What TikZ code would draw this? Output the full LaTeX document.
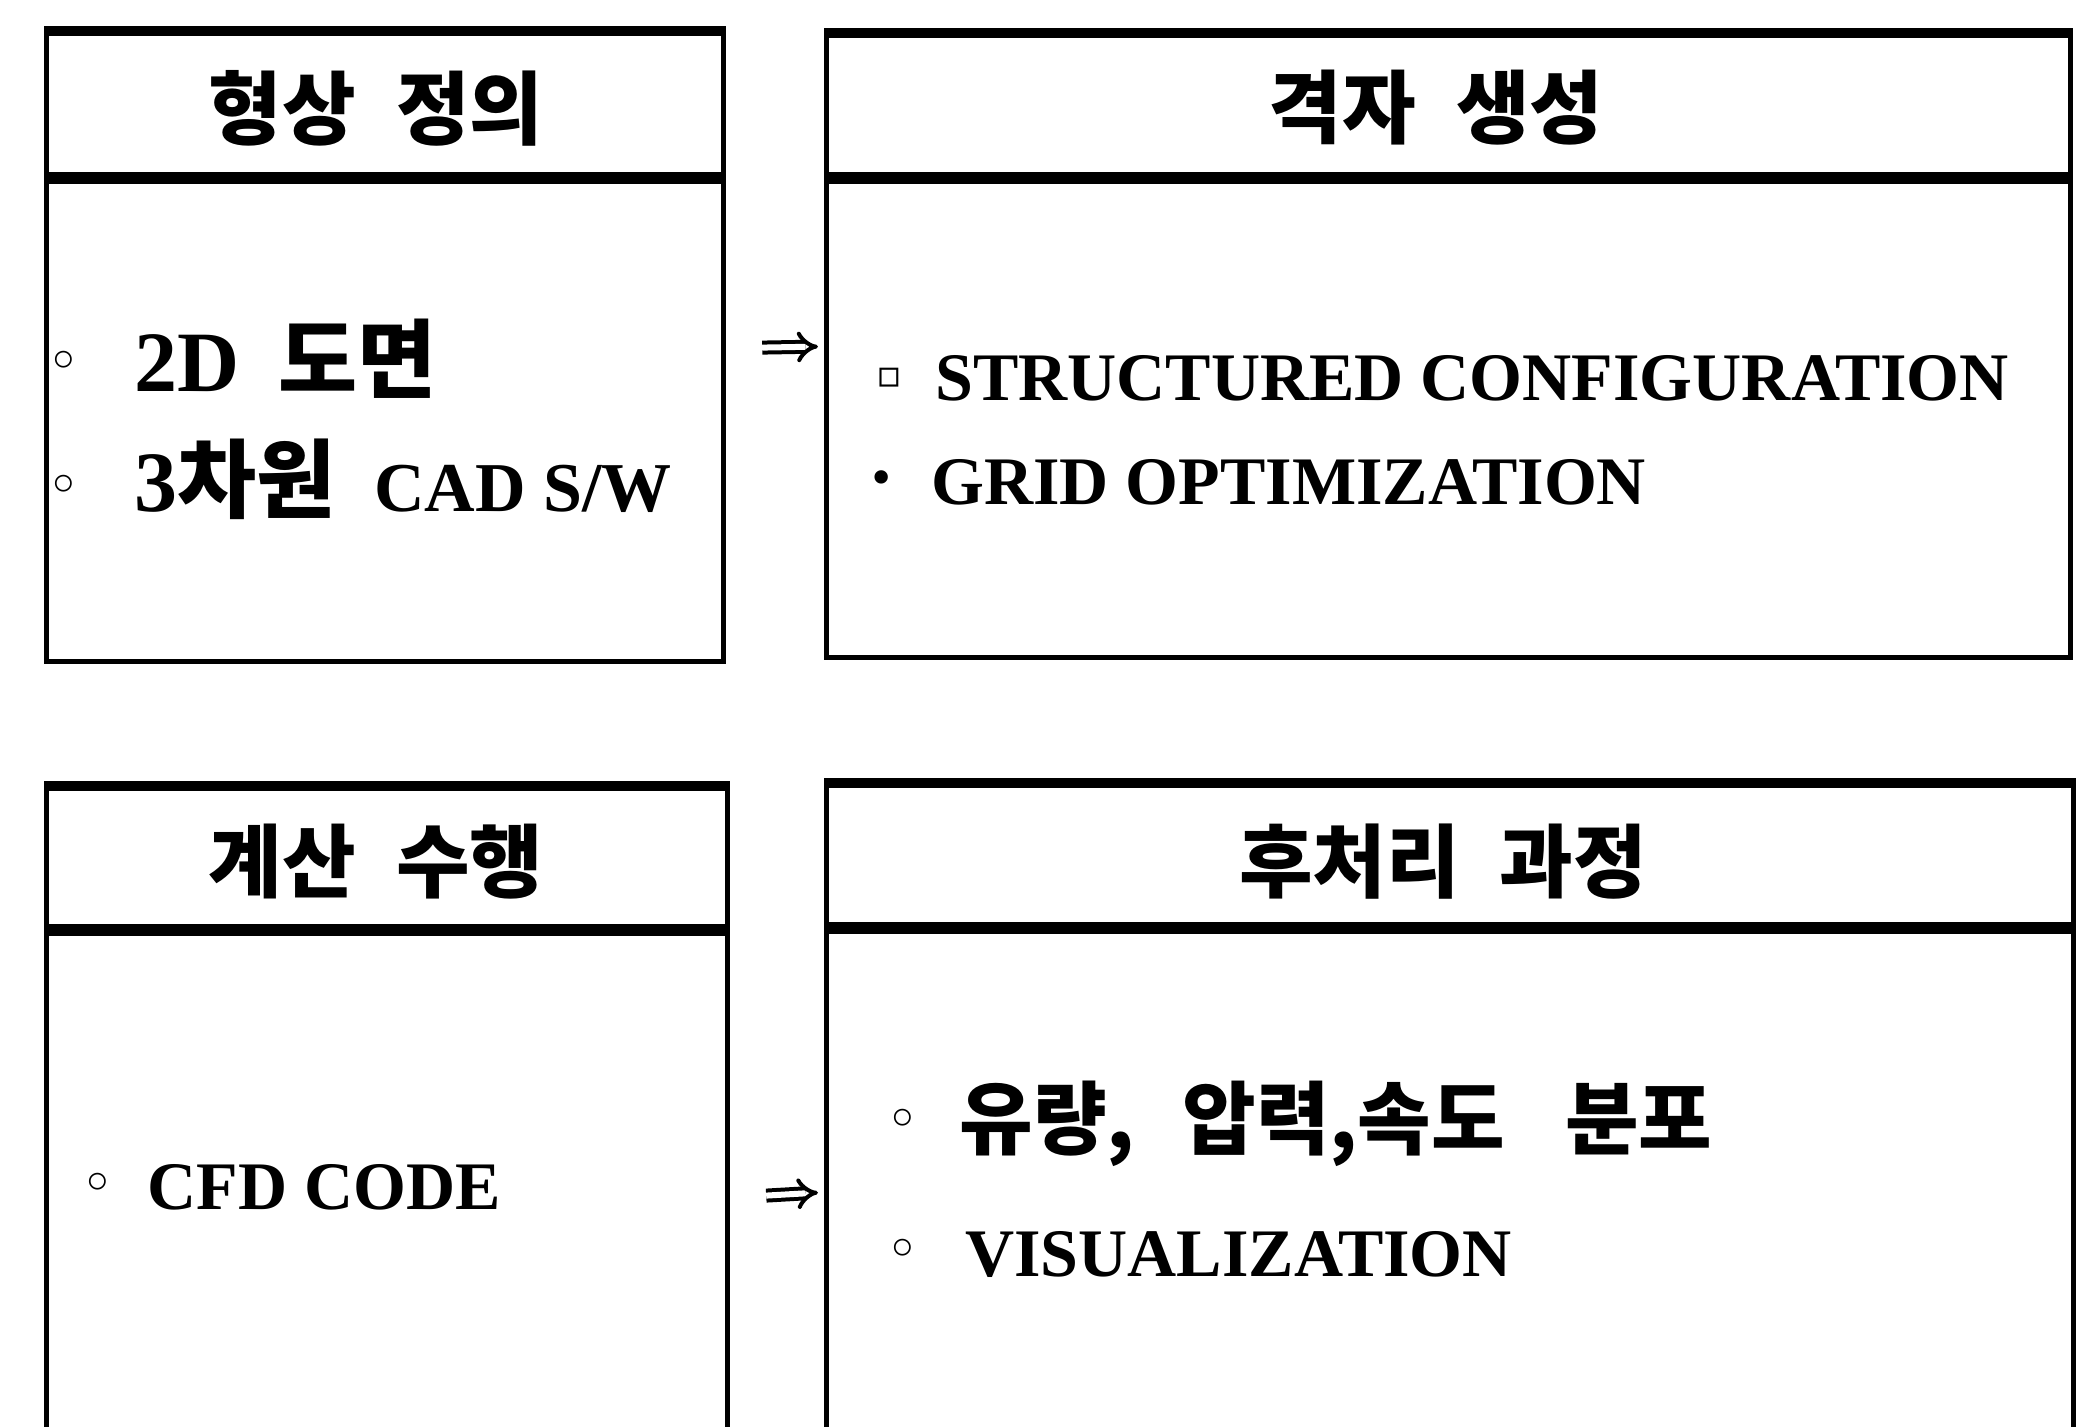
\documentclass[tikz,border=0pt]{standalone}
\usepackage{fontspec}
\setmainfont{Liberation Serif}
\newfontfamily\kr{Noto Sans CJK KR}
\newfontfamily\sym{DejaVu Sans}
\usetikzlibrary{arrows.meta}

\tikzset{
  box/.style={draw, line width=2.6pt, anchor=north west, inner sep=0pt},
  topedge/.style={line width=4.5pt},
  divider/.style={line width=6pt},
  head/.style={font=\kr\bfseries\fontsize{40}{44}\selectfont, inner sep=0pt},
  big/.style={anchor=base west, inner sep=0pt, font=\bfseries\fontsize{43}{48}\selectfont},
  item/.style={anchor=base west, inner sep=0pt, font=\bfseries\fontsize{34}{40}\selectfont},
  kitem/.style={anchor=base west, inner sep=0pt, font=\kr\bfseries\fontsize{40}{44}\selectfont},
  dot/.style={inner sep=0pt, font=\sym\bfseries\fontsize{24}{26}\selectfont},
  smalldot/.style={inner sep=0pt, font=\sym\bfseries\fontsize{19}{21}\selectfont},
  imp/.style={double, double distance=3pt, line width=2pt, -{Implies[length=6pt]}}
}

\begin{document}
\begin{tikzpicture}[x=0.5pt,y=-0.5pt]
\useasboundingbox (0,0) rectangle (2095,1427);
\clip (0,0) rectangle (2095,1427);
\fill[white] (0,0) rectangle (2095,1427);

% --- the four stage boxes ---
\node[box, minimum width=338.5pt, minimum height=314pt] (tl) at (44,31) {};
\node[box, minimum width=622pt,   minimum height=311pt] (tr) at (824,33) {};
\node[box, minimum width=340.5pt, minimum height=407pt] (bl) at (44,786) {};
\node[box, minimum width=623.5pt, minimum height=407pt] (br) at (824,783) {};

% heavier top edges
\draw[topedge] (tl.north west) -- (tl.north east);
\draw[topedge] (tr.north west) -- (tr.north east);
\draw[topedge] (bl.north west) -- (bl.north east);
\draw[topedge] (br.north west) -- (br.north east);

% header dividers
\coordinate (tlh) at (0,178);
\coordinate (trh) at (0,178);
\coordinate (blh) at (0,930);
\coordinate (brh) at (0,928);
\draw[divider] (tl.west |- tlh) -- (tl.east |- tlh);
\draw[divider] (tr.west |- trh) -- (tr.east |- trh);
\draw[divider] (bl.west |- blh) -- (bl.east |- blh);
\draw[divider] (br.west |- brh) -- (br.east |- brh);

% header titles
\node[head] (tlt) at (376,108) {형상\hspace{0.5em}정의};
\node[head] (trt) at (1436,108) {격자\hspace{0.5em}생성};
\node[head] (blt) at (376,862) {계산\hspace{0.5em}수행};
\node[head] (brt) at (1443,862) {후처리\hspace{0.5em}과정};

% geometry definition items
\node[dot] (b1) at (64,364) {◦};
\node[big] (t1) at (134,392) {2D\hspace{0.45em}{\kr 도면}};
\node[dot] (b2) at (64,488) {◦};
\node[big] (t2) at (134,512) {3{\kr 차원}\hspace{0.45em}\fontsize{35}{40}\selectfont CAD S/W};

% grid generation items
\node[smalldot] (b3) at (889,378) {▫};
\node[item] (t3) at (935,401) {STRUCTURED CONFIGURATION};
\node[smalldot] (b4) at (882,481) {•};
\node[item] (t4) at (931,505) {GRID OPTIMIZATION};

% computation item
\node[dot] (b5) at (98,1186) {◦};
\node[item] (t5) at (147,1209) {CFD CODE};

% post-processing items
\node[dot] (b6) at (903,1122) {◦};
\node[kitem] (t6) at (959,1148) {유량,\hspace{0.6em}압력,속도\hspace{0.75em}분포};
\node[dot] (b7) at (903,1252) {◦};
\node[item] (t7) at (965,1276) {VISUALIZATION};

% flow arrows
\draw[imp] ([xshift=18pt]tl.east) -- ([xshift=-3pt]tr.west);
\draw[imp] ([xshift=18pt]bl.east) -- ([xshift=-3pt]br.west);
\end{tikzpicture}
\end{document}
